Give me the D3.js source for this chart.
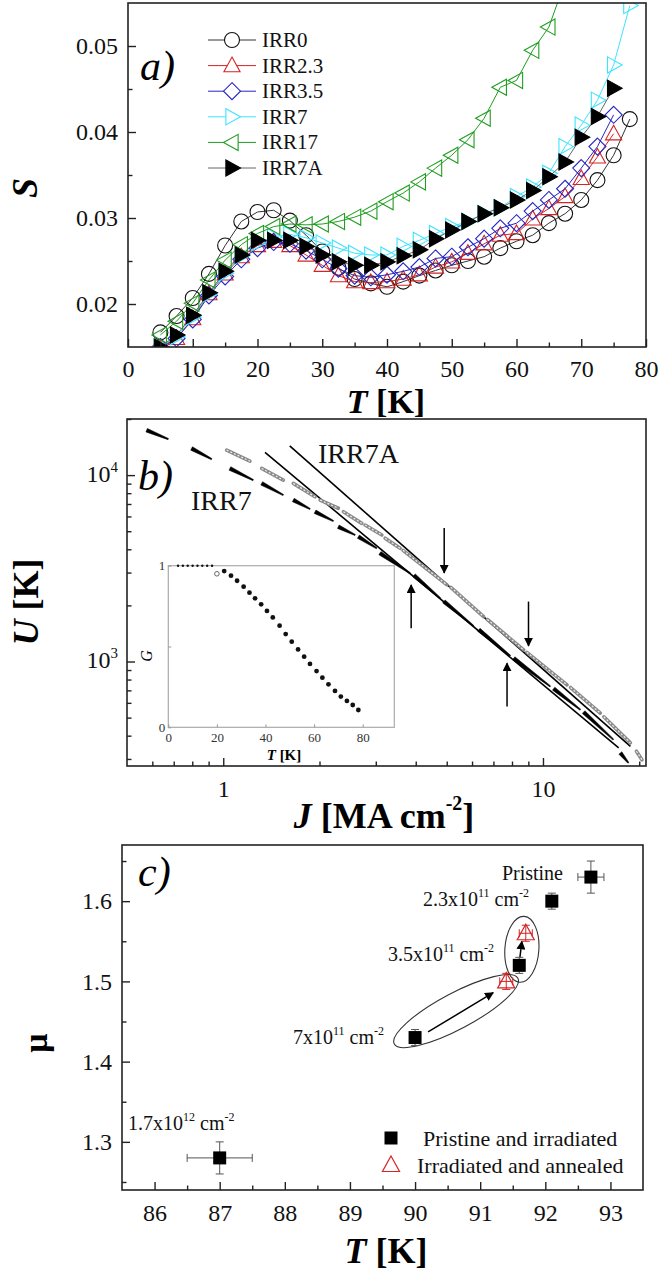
<!DOCTYPE html>
<meta charset="utf-8">
<style>
svg, svg text { font-family: "Liberation Serif", "Times New Roman", Times, serif; }
</style>
<body style="margin:0;background:#fff">
<script src="https://cdn.jsdelivr.net/npm/d3@7"></script>
<script>
//panel a: S vs T
var tA = [5,7.5,10,12.5,15,17.5,20,22.5,25,27.5,30,32.5,35,37.5,40,42.5,45,47.5,50,52.5,55,57.5,60,62.5,65,67.5,70,72.5,75,77.5];
var irr0  = [0.0167,0.0186,0.0207,0.0235,0.0268,0.0296,0.0307,0.0309,0.0297,0.0280,0.0261,0.0242,0.0229,0.0224,0.0220,0.0226,0.0233,0.0239,0.0245,0.0250,0.0255,0.0265,0.0273,0.0280,0.0294,0.0305,0.0321,0.0344,0.0373,0.0415];
var irr23 = [0.0148,0.0160,0.0183,0.0212,0.0235,0.0255,0.0268,0.0273,0.0268,0.0257,0.0245,0.0233,0.0226,0.0225,0.0226,0.0229,0.0234,0.0243,0.0249,0.0259,0.0270,0.0280,0.0282,0.0299,0.0311,0.0325,0.0346,0.0371,0.0398,null];
var irr35 = [0.0150,0.0160,0.0182,0.0210,0.0232,0.0252,0.0265,0.0272,0.0270,0.0262,0.0252,0.0241,0.0233,0.0231,0.0234,0.0238,0.0243,0.0253,0.0255,0.0266,0.0276,0.0288,0.0294,0.0308,0.0321,0.0334,0.0358,0.0383,0.0420,null];
var irr7  = [0.0150,0.0162,0.0185,0.0212,0.0236,0.0256,0.0271,0.0278,0.0281,0.0277,0.0271,0.0265,0.0259,0.0257,0.0257,0.0267,0.0274,0.0282,0.0290,0.0296,0.0305,0.0312,0.0325,0.0336,0.0352,0.0383,0.0408,0.0437,0.0478,0.0547];
var irr17 = [0.0164,0.0180,0.0201,0.0228,0.0251,0.0269,0.0282,0.0290,0.0293,0.0292,0.0293,0.0296,0.0301,0.0308,0.0319,0.0329,0.0342,0.0358,0.0373,0.0391,0.0416,0.0452,0.0460,0.0495,0.0522,0.0575,null,null,null,null];
var irr7a = [0.0150,0.0164,0.0187,0.0213,0.0238,0.0257,0.0274,0.0274,0.0274,0.0267,0.0257,0.0249,0.0245,0.0245,0.0249,0.0256,0.0263,0.0276,0.0286,0.0296,0.0305,0.0312,0.0321,0.0332,0.0348,0.0365,0.0394,0.0418,0.0451,null];
var namesA = ["IRR0","IRR2.3","IRR3.5","IRR7","IRR17","IRR7A"];

//panel b: U vs J, each segment = one temperature [J0,U0,J1,U1]
var segIrr7 = [[0.576,17420,0.673,15600],[0.796,13900,0.920,12180],[1.049,10860,1.241,9400],[1.319,9030,1.541,7816],
  [1.656,7350,1.868,6580],[1.937,6360,2.21,5670],[2.29,5285,2.585,4773],[2.647,4672,3.02,4050],
  [3.09,3813,3.84,2975],[3.95,2900,4.77,2186],[4.9,2100,6.06,1553],[6.3,1480,7.9,1073],
  [8.1,1040,10.54,735],[10.8,715,13.09,551],[13.4,535,16.6,381],[17.46,323,18.5,286]];
var segIrr7a = [[1.025,13610,1.212,11880],[1.319,10860,1.541,9400],[1.656,9030,1.937,7650],[2.009,7350,2.29,6640],
  [2.376,6360,2.713,5510],[2.777,5395,3.133,4773],[3.208,4583,3.574,4050],[3.65,3950,5.01,2576],
  [5.15,2500,6.52,1742],[6.7,1680,8.70,1155],[8.9,1120,11.89,750],[12.2,725,15.11,529],
  [15.5,505,18.77,366],[19.6,330,20.4,297]];
var fitIrr7 = [[1.351,13230],[17.25,343.6]];
var fitIrr7a = [[1.614,14350],[18.77,350.5]];
var arrowsB = [[4.91,5200,2985],[9.01,2096,1213],[3.87,1510,2576],[7.72,574,980]];  //J, U from, U to
//inset G(T)
var tFlat = [4,6,8,10,12,14,16,18];
var gFlat = [1,1,1,1,1,1,1,1];
var tOpen = [20], gOpen = [0.95];
var tG = [23,25.8,28.3,31,33.4,35.7,38.2,40.6,43,45.8,48.3,50.8,53.4,55.9,58.3,61,63.4,65.9,68.6,71,73.5,75.9,78.2];
var gG = [0.967,0.938,0.907,0.87,0.833,0.798,0.761,0.72,0.68,0.629,0.577,0.53,0.482,0.437,0.392,0.348,0.307,0.266,0.225,0.19,0.163,0.138,0.107];

//panel c: mu vs Tc
var tSq = [87,90,91.6,92.1,92.7];
var muSq = [1.28,1.43,1.52,1.60,1.63];
var txErr = [0.5,0,0,0,0.2];
var muErr = [0.02,0.01,0.01,0.01,0.02];
var tTri = [91.4,91.7];
var muTri = [1.50,1.56];
var triTErr = [0.1,0.1];
var triMuErr = [0.01,0.01];

var font = "Liberation Serif, Times New Roman, serif";
var svg = d3.select("body").append("svg")
	.attr("width",662).attr("height",1275)
	.attr("font-family",font);

var defs = svg.append("defs");
defs.append("marker").attr("id","head").attr("viewBox","0 0 10 10")
	.attr("refX",9).attr("refY",5).attr("markerWidth",6).attr("markerHeight",6)
	.attr("markerUnits","strokeWidth").attr("orient","auto")
	.append("path").attr("d","M0,0L10,5L0,10Z").attr("fill","#000");

function shape(t, r){
	if(t=="circle") return "M"+(-r)+",0A"+r+","+r+" 0 1,0 "+r+",0A"+r+","+r+" 0 1,0 "+(-r)+",0Z";
	if(t=="up") return "M0,"+(-r)+"L"+(r*0.95)+","+(r*0.72)+"L"+(-r*0.95)+","+(r*0.72)+"Z";
	if(t=="right") return "M"+r+",0L"+(-r*0.72)+","+(-r*0.95)+"L"+(-r*0.72)+","+(r*0.95)+"Z";
	if(t=="left") return "M"+(-r)+",0L"+(r*0.72)+","+(-r*0.95)+"L"+(r*0.72)+","+(r*0.95)+"Z";
	if(t=="diamond") return "M0,"+(-r)+"L"+r+",0L0,"+r+"L"+(-r)+",0Z";
	if(t=="square") return "M"+(-r)+","+(-r)+"h"+(2*r)+"v"+(2*r)+"h"+(-2*r)+"Z";
}

//axis with inward ticks: major with labels, minor without
function axis(orient, scale, pos, major, minor, fmt, fs, pad){
	var mk = orient=="bottom" ? d3.axisBottom : d3.axisLeft;
	var tr = orient=="bottom" ? "translate(0,"+pos+")" : "translate("+pos+",0)";
	var g = svg.append("g").attr("transform",tr)
		.call(mk(scale).tickValues(major).tickSize(-8).tickPadding(pad).tickFormat(fmt));
	g.attr("font-family",font).attr("font-size",fs);
	g.select(".domain").remove();
	g.selectAll("line").attr("stroke","#222").attr("stroke-width",1.4);
	g.selectAll("text").attr("fill","#111");
	if(minor.length){
		var g2 = svg.append("g").attr("transform",tr)
			.call(mk(scale).tickValues(minor).tickSize(-4.5).tickFormat(""));
		g2.select(".domain").remove();
		g2.selectAll("line").attr("stroke","#222").attr("stroke-width",1.4);
	}
	return g;
}
function frame(x, y){
	svg.append("rect").attr("x",x.range()[0]).attr("y",y.range()[1])
		.attr("width",x.range()[1]-x.range()[0]).attr("height",y.range()[0]-y.range()[1])
		.attr("fill","none").attr("stroke","#222").attr("stroke-width",1.6);
}

//===== panel a =====
var ax = d3.scaleLinear().domain([0,80]).range([128,646]);
var ay = d3.scaleLinear().domain([0.015,0.055]).range([347,3]);
defs.append("clipPath").attr("id","clipA").append("rect")
	.attr("x",128).attr("y",3).attr("width",518).attr("height",344);

var seriesA = [
	{v:irr0,  shape:"circle",  color:"#111",    fill:"none", line:"#333"},
	{v:irr23, shape:"up",      color:"#d42424", fill:"none", line:"#d42424"},
	{v:irr35, shape:"diamond", color:"#2626c4", fill:"none", line:"#2626c4"},
	{v:irr7,  shape:"right",   color:"#3ee4ff", fill:"none", line:"#3ee4ff"},
	{v:irr17, shape:"left",    color:"#1f9e1f", fill:"none", line:"#1f9e1f"},
	{v:irr7a, shape:"right",   color:"#000",    fill:"#000", line:"#666"}
];
var plotA = svg.append("g").attr("clip-path","url(#clipA)");
var lineA = d3.line().defined(function(d){return d[1]!=null;})
	.x(function(d){return ax(d[0]);}).y(function(d){return ay(d[1]);});
seriesA.forEach(function(s){
	var pts = tA.map(function(t,i){return [t,s.v[i]];});
	plotA.append("path").attr("d",lineA(pts)).attr("fill","none")
		.attr("stroke",s.line).attr("stroke-width",1);
	plotA.selectAll(null).data(pts.filter(function(d){return d[1]!=null;})).enter()
		.append("path").attr("d",shape(s.shape,s.shape=="circle"?7.5:8.5))
		.attr("transform",function(d){return "translate("+ax(d[0])+","+ay(d[1])+")";})
		.attr("fill",s.fill).attr("stroke",s.color).attr("stroke-width",1.1);
});
axis("bottom", ax, 347, d3.range(0,81,10), d3.range(5,80,10), d3.format("d"), 24, 13);
axis("left", ay, 128, [0.02,0.03,0.04,0.05], [0.025,0.035,0.045], d3.format(".2f"), 24, 10);
frame(ax, ay);

//legend a
seriesA.forEach(function(s,i){
	var y = 40 + i*25.6;
	svg.append("line").attr("x1",208).attr("x2",256).attr("y1",y).attr("y2",y)
		.attr("stroke",s.line).attr("stroke-width",1);
	svg.append("path").attr("d",shape(s.shape,s.shape=="circle"?7.5:8.5))
		.attr("transform","translate(232,"+y+")")
		.attr("fill",s.fill=="none"?"#fff":s.fill).attr("stroke",s.color).attr("stroke-width",1.1);
	svg.append("text").attr("x",262).attr("y",y+7).attr("font-size",21).attr("fill","#111").text(namesA[i]);
});
svg.append("text").attr("x",140).attr("y",80).attr("font-size",42).attr("font-style","italic").text("a)");

//titles a
var tt = svg.append("text").attr("x",386).attr("y",413).attr("text-anchor","middle")
	.attr("font-size",34).attr("font-weight","bold");
tt.append("tspan").attr("font-style","italic").text("T");
tt.append("tspan").text(" [K]");
svg.append("text").attr("transform","translate(37,188) rotate(-90)").attr("text-anchor","middle")
	.attr("font-size",36).attr("font-weight","bold").attr("font-style","italic").text("S");

//===== panel b =====
var bx = d3.scaleLog().domain([0.5,21]).range([127,646]);
var by = d3.scaleLog().domain([275,20000]).range([766,419]);

//fit lines
[fitIrr7, fitIrr7a].forEach(function(f){
	svg.append("line").attr("x1",bx(f[0][0])).attr("y1",by(f[0][1]))
		.attr("x2",bx(f[1][0])).attr("y2",by(f[1][1]))
		.attr("stroke","#000").attr("stroke-width",1.6);
});
//IRR7A data: gray open circles
var gB = svg.append("g");
gB.selectAll(null).data(segIrr7a).enter().append("line")
	.attr("x1",function(d){return bx(d[0]);}).attr("y1",function(d){return by(d[1]);})
	.attr("x2",function(d){return bx(d[2]);}).attr("y2",function(d){return by(d[3]);})
	.attr("stroke","#8a8a8a").attr("stroke-width",3.6).attr("stroke-linecap","round");
gB.selectAll(null).data(segIrr7a).enter().append("line")
	.attr("x1",function(d){return bx(d[0]);}).attr("y1",function(d){return by(d[1]);})
	.attr("x2",function(d){return bx(d[2]);}).attr("y2",function(d){return by(d[3]);})
	.attr("stroke","#eee").attr("stroke-width",1.2).attr("stroke-dasharray","2,2");
//IRR7 data: black tapered segments
gB.selectAll(null).data(segIrr7).enter().append("path")
	.attr("d",function(d){
		var x0=bx(d[0]), y0=by(d[1]), x1=bx(d[2]), y1=by(d[3]);
		var L=Math.hypot(x1-x0,y1-y0), nx=-(y1-y0)/L, ny=(x1-x0)/L;
		return "M"+(x0+nx*1.9)+","+(y0+ny*1.9)+"L"+(x1+nx*0.6)+","+(y1+ny*0.6)
			+"L"+(x1-nx*0.6)+","+(y1-ny*0.6)+"L"+(x0-nx*1.9)+","+(y0-ny*1.9)+"Z";
	})
	.attr("fill","#000").attr("stroke","#000").attr("stroke-width",0.5);
//arrows
svg.selectAll(null).data(arrowsB).enter().append("line")
	.attr("x1",function(d){return bx(d[0]);}).attr("x2",function(d){return bx(d[0]);})
	.attr("y1",function(d){return by(d[1]);}).attr("y2",function(d){return by(d[2]);})
	.attr("stroke","#000").attr("stroke-width",1.5).attr("marker-end","url(#head)");

axis("bottom", bx, 766, [1,10], [0.6,0.7,0.8,0.9,2,3,4,5,6,7,8,9,20], d3.format("d"), 24, 14);
axis("left", by, 127, [1000,10000], [300,400,500,600,700,800,900,2000,3000,4000,5000,6000,7000,8000,9000,20000], "", 24, 10);
[1000,10000].forEach(function(v){
	var t = svg.append("text").attr("x",118).attr("y",by(v)+7).attr("text-anchor","end")
		.attr("font-size",24).attr("fill","#111");
	t.append("tspan").text("10");
	t.append("tspan").attr("dy",-10).attr("font-size",15).text(v==1000?"3":"4");
});
frame(bx, by);

//inset
var ix = d3.scaleLinear().domain([0,93]).range([168.3,394.3]);
var iy = d3.scaleLinear().domain([0,1]).range([727.3,565.7]);
svg.append("rect").attr("x",168.3).attr("y",565.7).attr("width",226).attr("height",161.6)
	.attr("fill","#fff").attr("stroke","#aaa").attr("stroke-width",1.2);
var gi = svg.append("g").attr("transform","translate(0,727.3)")
	.call(d3.axisBottom(ix).tickValues([0,20,40,60,80]).tickSize(-3).tickPadding(5));
gi.attr("font-family",font).attr("font-size",13);
gi.select(".domain").remove();
gi.selectAll("line").attr("stroke","#999");
gi.selectAll("text").attr("fill","#333");
var gi2 = svg.append("g").attr("transform","translate(168.3,0)")
	.call(d3.axisLeft(iy).tickValues([0,0.5,1]).tickSize(-3).tickPadding(3).tickFormat(function(d){return d==0.5?"":d;}));
gi2.attr("font-family",font).attr("font-size",13);
gi2.select(".domain").remove();
gi2.selectAll("line").attr("stroke","#999");
gi2.selectAll("text").attr("fill","#333");
svg.selectAll(null).data(d3.zip(tFlat,gFlat)).enter().append("circle")
	.attr("cx",function(d){return ix(d[0]);}).attr("cy",function(d){return iy(d[1]);})
	.attr("r",1.2).attr("fill","#111");
svg.selectAll(null).data(d3.zip(tOpen,gOpen)).enter().append("circle")
	.attr("cx",function(d){return ix(d[0]);}).attr("cy",function(d){return iy(d[1]);})
	.attr("r",2.3).attr("fill","#fff").attr("stroke","#666");
svg.selectAll(null).data(d3.zip(tG,gG)).enter().append("circle")
	.attr("cx",function(d){return ix(d[0]);}).attr("cy",function(d){return iy(d[1]);})
	.attr("r",2.4).attr("fill","#111");
svg.append("text").attr("transform","translate(152,656) rotate(-90)").attr("text-anchor","middle")
	.attr("font-size",16).attr("font-style","italic").text("G");
var ti = svg.append("text").attr("x",284).attr("y",760).attr("text-anchor","middle")
	.attr("font-size",15).attr("font-weight","bold");
ti.append("tspan").attr("font-style","italic").text("T");
ti.append("tspan").text(" [K]");

svg.append("text").attr("x",138).attr("y",490).attr("font-size",42).attr("font-style","italic").text("b)");
svg.append("text").attr("x",318).attr("y",463).attr("font-size",28).attr("fill","#111").text("IRR7A");
svg.append("text").attr("x",191).attr("y",510).attr("font-size",28).attr("fill","#111").text("IRR7");

var tj = svg.append("text").attr("x",384).attr("y",828).attr("text-anchor","middle")
	.attr("font-size",36).attr("font-weight","bold");
tj.append("tspan").attr("font-style","italic").text("J");
tj.append("tspan").text(" [MA cm");
tj.append("tspan").attr("dy",-18).attr("font-size",20).text("-2");
tj.append("tspan").attr("dy",18).text("]");
var tu = svg.append("text").attr("transform","translate(38,602) rotate(-90)").attr("text-anchor","middle")
	.attr("font-size",36).attr("font-weight","bold");
tu.append("tspan").attr("font-style","italic").text("U");
tu.append("tspan").text(" [K]");

//===== panel c =====
var cx = d3.scaleLinear().domain([85.5,93.5]).range([122,643]);
var cy = d3.scaleLinear().domain([1.24,1.67]).range([1190,845]);

//ellipses and arrows
svg.append("ellipse").attr("transform","translate("+cx(90.63)+","+cy(1.463)+") rotate(-28)")
	.attr("rx",70).attr("ry",18).attr("fill","none").attr("stroke","#333").attr("stroke-width",1.1);
svg.append("ellipse").attr("transform","translate("+cx(91.64)+","+cy(1.54)+") rotate(4)")
	.attr("rx",17).attr("ry",33).attr("fill","none").attr("stroke","#333").attr("stroke-width",1.1);
svg.append("line").attr("x1",cx(90.2)).attr("y1",cy(1.437)).attr("x2",cx(91.2)).attr("y2",cy(1.486))
	.attr("stroke","#000").attr("stroke-width",1.5).attr("marker-end","url(#head)");
svg.append("line").attr("x1",cx(91.61)).attr("y1",cy(1.53)).attr("x2",cx(91.64)).attr("y2",cy(1.55))
	.attr("stroke","#000").attr("stroke-width",1.5).attr("marker-end","url(#head)");

//error bars
function errBars(ts, ms, te, me, col){
	ts.forEach(function(t,i){
		var g = svg.append("g").attr("stroke",col).attr("stroke-width",1);
		if(te[i]>0){
			g.append("line").attr("x1",cx(t-te[i])).attr("x2",cx(t+te[i])).attr("y1",cy(ms[i])).attr("y2",cy(ms[i]));
			g.append("line").attr("x1",cx(t-te[i])).attr("x2",cx(t-te[i])).attr("y1",cy(ms[i])-4).attr("y2",cy(ms[i])+4);
			g.append("line").attr("x1",cx(t+te[i])).attr("x2",cx(t+te[i])).attr("y1",cy(ms[i])-4).attr("y2",cy(ms[i])+4);
		}
		g.append("line").attr("x1",cx(t)).attr("x2",cx(t)).attr("y1",cy(ms[i]-me[i])).attr("y2",cy(ms[i]+me[i]));
		g.append("line").attr("x1",cx(t)-4).attr("x2",cx(t)+4).attr("y1",cy(ms[i]-me[i])).attr("y2",cy(ms[i]-me[i]));
		g.append("line").attr("x1",cx(t)-4).attr("x2",cx(t)+4).attr("y1",cy(ms[i]+me[i])).attr("y2",cy(ms[i]+me[i]));
	});
}
errBars(tSq, muSq, txErr, muErr, "#555");
errBars(tTri, muTri, triTErr, triMuErr, "#d42424");
svg.selectAll(null).data(d3.zip(tSq,muSq)).enter().append("path")
	.attr("d",shape("square",6.5))
	.attr("transform",function(d){return "translate("+cx(d[0])+","+cy(d[1])+")";})
	.attr("fill","#000");
svg.selectAll(null).data(d3.zip(tTri,muTri)).enter().append("path")
	.attr("d",shape("up",9))
	.attr("transform",function(d){return "translate("+cx(d[0])+","+cy(d[1])+")";})
	.attr("fill","none").attr("stroke","#d42424").attr("stroke-width",1.2);

axis("bottom", cx, 1190, d3.range(86,94,1), d3.range(86.5,93.5,1), d3.format("d"), 24, 14);
axis("left", cy, 122, [1.3,1.4,1.5,1.6], [1.25,1.35,1.45,1.55,1.65], d3.format(".1f"), 24, 10);
frame(cx, cy);

//annotations c
function dose(x, y, anchor, a, e){
	var t = svg.append("text").attr("x",x).attr("y",y).attr("text-anchor",anchor)
		.attr("font-size",20).attr("fill","#111");
	t.append("tspan").text(a);
	t.append("tspan").attr("dy",-9).attr("font-size",12).text(e);
	t.append("tspan").attr("dy",9).text(" cm");
	t.append("tspan").attr("dy",-9).attr("font-size",12).text("-2");
}
svg.append("text").attr("x",563).attr("y",880).attr("text-anchor","end").attr("font-size",20).attr("fill","#111").text("Pristine");
dose(529, 906, "end", "2.3x10", "11");
dose(494, 961, "end", "3.5x10", "11");
dose(384, 1044, "end", "7x10", "11");
dose(128, 1130, "start", "1.7x10", "12");

//legend c
svg.append("path").attr("d",shape("square",6.5)).attr("transform","translate(391,1138)").attr("fill","#000");
svg.append("text").attr("x",423).attr("y",1146).attr("font-size",22).attr("fill","#111").text("Pristine and irradiated");
svg.append("path").attr("d",shape("up",9)).attr("transform","translate(391,1165)")
	.attr("fill","none").attr("stroke","#d42424").attr("stroke-width",1.2);
svg.append("text").attr("x",417).attr("y",1173).attr("font-size",22).attr("fill","#111").text("Irradiated and annealed");

svg.append("text").attr("x",138).attr("y",886).attr("font-size",42).attr("font-style","italic").text("c)");
var tc = svg.append("text").attr("x",386).attr("y",1263).attr("text-anchor","middle")
	.attr("font-size",36).attr("font-weight","bold");
tc.append("tspan").attr("font-style","italic").text("T");
tc.append("tspan").text(" [K]");
svg.append("text").attr("transform","translate(47,1043) rotate(-90)").attr("text-anchor","middle")
	.attr("font-size",34).attr("font-weight","bold").text("μ");
</script>
</body>
